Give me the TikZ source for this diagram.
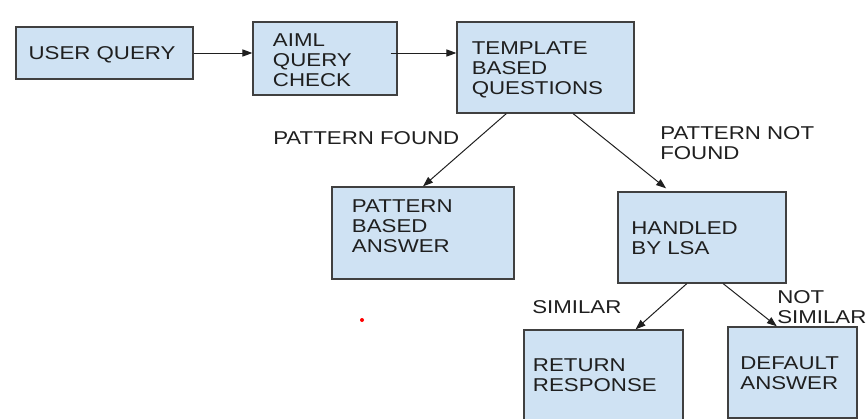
\documentclass[tikz,border=0pt]{standalone}
\usepackage{fontspec}
\setmainfont[FakeStretch=1.2]{Liberation Sans}
\usetikzlibrary{arrows.meta,calc}
\definecolor{boxfill}{HTML}{CFE2F3}
\definecolor{boxline}{HTML}{404040}
\definecolor{ink}{HTML}{1F1F1F}
\tikzset{
  box/.style={draw=boxline,fill=boxfill,line width=0.9pt,align=left,inner ysep=0pt,text=ink,text height=0pt,text depth=#1},
  lbl/.style={anchor=west,inner sep=0pt,align=left,text=ink},
  arr/.style={draw=ink,line width=0.7pt,-{Triangle[length=0.25cm,width=0.18cm]}}
}
\begin{document}
\begin{tikzpicture}[x=0.025cm,y=-0.025cm,font=\fontsize{13.2}{14.2}\selectfont]
\fill[white] (0,0) rectangle (866,419);
\useasboundingbox (0,0) rectangle (866,419);
% boxes
\node[box=0pt,text height=0.35cm,text width=3.795cm,inner xsep=0.315cm,minimum height=1.3cm] (user) at (104.5,53) {USER QUERY};
\node[box=0.575cm,text width=2.6cm,inner xsep=0.5cm,minimum height=1.825cm] (aiml) at (325,58.5) {AIML\\QUERY\\CHECK};
\node[box=0.625cm,text width=3.685cm,inner xsep=0.37cm,minimum height=2.275cm] (tmpl) at (545.5,67.5) {TEMPLATE\\BASED\\QUESTIONS};
\node[box=1cm,text width=3.55cm,inner xsep=0.5cm,minimum height=2.3cm] (pba) at (423,233) {PATTERN\\BASED\\ANSWER};
\node[box=0.125cm,text width=3.53cm,inner xsep=0.335cm,minimum height=2.275cm] (lsa) at (702,237.5) {HANDLED\\BY LSA};
\node[box=0.215cm,text width=3.525cm,inner xsep=0.225cm,minimum height=2.3cm] (ret) at (603.5,376) {RETURN\\RESPONSE};
\node[box=0.16cm,text width=2.605cm,inner xsep=0.31cm,minimum height=2.275cm] (dflt) at (792.5,372.5) {DEFAULT\\ANSWER};
% branch labels
\node[lbl] (found) at (273,138) {PATTERN FOUND};
\node[lbl] (notfound) at (660,143.5) {PATTERN NOT\\FOUND};
\node[lbl] (sim) at (532,307.5) {SIMILAR};
\node[lbl] (notsim) at (777,307) {NOT\\SIMILAR};
% arrows
\coordinate (chk) at ($(aiml.east |- user.east)+(-7,0)$);
\draw[arr] (user.east) -- (user.east -| aiml.west);
\draw[arr] (chk) -- (chk -| tmpl.west);
\draw[arr] ($(tmpl.south west)!.28!(tmpl.south east)$) -- (pba.north);
\draw[arr,shorten >=0.12cm] ($(tmpl.south west)!.655!(tmpl.south east)$) -- ($(lsa.north west)!.31!(lsa.north east)$);
\draw[arr] ($(lsa.south west)!.41!(lsa.south east)$) -- ($(ret.north west)!.7!(ret.north east)$);
\draw[arr] ($(lsa.south west)!.625!(lsa.south east)$) -- ($(dflt.north west)!.38!(dflt.north east)$);
\fill[red] (362,320) circle (0.05cm);
\end{tikzpicture}
\end{document}
